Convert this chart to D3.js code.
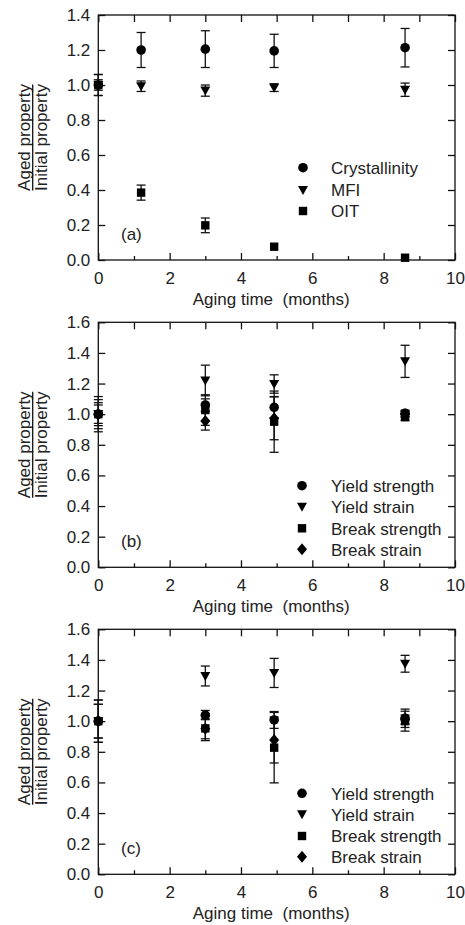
<!DOCTYPE html>
<html>
<head>
<meta charset="utf-8">
<script src="https://cdn.jsdelivr.net/npm/d3@7"></script>
<style>
  html, body { margin: 0; padding: 0; background: #fff; }
  svg text { font-family: "Liberation Sans", Arial, sans-serif; fill: #222; white-space: pre; }
</style>
</head>
<body>
<svg id="chart" width="465" height="925"></svg>
<script>
// ---------- DATA ----------
const xTickLabels = [0, 2, 4, 6, 8, 10];
const xMinorTicks = [1, 3, 5, 7, 9];
const yTicksA = [0, 0.2, 0.4, 0.6, 0.8, 1.0, 1.2, 1.4];
const yTicksBC = [0, 0.2, 0.4, 0.6, 0.8, 1.0, 1.2, 1.4, 1.6];

// Panel (a)
const timeA = [0, 1.2, 3.0, 4.93, 8.6];
const crystallinity    = [1.0, 1.200, 1.205, 1.195, 1.213];
const crystallinityErr = [0.06, 0.10, 0.105, 0.095, 0.11];
const mfi    = [1.0, 0.993, 0.968, 0.985, 0.973];
const mfiErr = [0.03, 0.03, 0.032, 0.022, 0.038];
const oit    = [1.0, 0.385, 0.198, 0.076, 0.013];
const oitErr = [0.06, 0.043, 0.042, 0, 0];

// Panels (b) and (c)
const timeBC = [0, 3.0, 4.93, 8.6];
const yieldStrengthB    = [1.0, 1.06, 1.045, 1.006];
const yieldStrengthBErr = [0.075, 0.04, 0.07, 0.02];
const yieldStrainB      = [1.0, 1.22, 1.197, 1.345];
const yieldStrainBErr   = [0.115, 0.10, 0.06, 0.105];
const breakStrengthB    = [1.0, 1.027, 0.951, 0.98];
const breakStrengthBErr = [0.095, 0.10, 0.20, 0.02];
const breakStrainB      = [1.0, 0.956, 0.973, 1.0];
const breakStrainBErr   = [0.06, 0.06, 0.14, 0.02];

const yieldStrengthC    = [1.0, 1.04, 1.008, 1.019];
const yieldStrengthCErr = [0.11, 0.03, 0.055, 0.06];
const yieldStrainC      = [1.0, 1.295, 1.315, 1.375];
const yieldStrainCErr   = [0.138, 0.065, 0.095, 0.055];
const breakStrengthC    = [1.0, 0.953, 0.827, 1.0];
const breakStrengthCErr = [0.11, 0.08, 0.23, 0.065];
const breakStrainC      = [1.0, 0.95, 0.877, 1.01];
const breakStrainCErr   = [0.138, 0.065, 0.15, 0.03];

const legendA = ["Crystallinity", "MFI", "OIT"];
const legendBC = ["Yield strength", "Yield strain", "Break strength", "Break strain"];

// ---------- DRAWING ----------
const svg = d3.select("#chart");
const FONT = 17;

const markerPaths = {
  circle: d3.symbol().type(d3.symbolCircle).size(Math.PI * 4.8 * 4.8)(),
  triangle: "M-5,-4L5,-4L0,5Z",
  square: "M-4.2,-4.2L4.2,-4.2L4.2,4.2L-4.2,4.2Z",
  diamond: "M0,-6L5,0L0,6L-5,0Z"
};

function drawPanel(cfg) {
  const left = 98.3, right = 455, top = cfg.top, bottom = cfg.top + 245;
  const x = d3.scaleLinear().domain([0, 10]).range([left, right]);
  const y = d3.scaleLinear().domain([0, cfg.yMax]).range([bottom, top]);
  const g = svg.append("g");

  g.append("rect").attr("x", left).attr("y", top)
    .attr("width", right - left).attr("height", bottom - top)
    .attr("fill", "none").attr("stroke", "#111").attr("stroke-width", 1.3);

  const bx = g.append("g").attr("transform", `translate(0,${bottom})`)
    .call(d3.axisBottom(x).tickValues(xTickLabels).tickSize(-7).tickPadding(12)
      .tickFormat(d3.format("d")));
  bx.select(".domain").remove();
  bx.selectAll(".tick line").attr("stroke", "#111").attr("stroke-width", 1.3);
  bx.selectAll(".tick text").attr("font-size", FONT).attr("fill", "#222")
    .attr("font-family", '"Liberation Sans", Arial, sans-serif');
  const bxm = g.append("g").attr("transform", `translate(0,${bottom})`)
    .call(d3.axisBottom(x).tickValues(xMinorTicks).tickSize(-4).tickFormat(""));
  bxm.select(".domain").remove();
  bxm.selectAll(".tick line").attr("stroke", "#111").attr("stroke-width", 1.3);

  const tx = g.append("g").attr("transform", `translate(0,${top})`)
    .call(d3.axisTop(x).tickValues(d3.range(0, 11)).tickSize(-7).tickFormat(""));
  tx.select(".domain").remove();
  tx.selectAll(".tick line").attr("stroke", "#111").attr("stroke-width", 1.3);

  const ly = g.append("g").attr("transform", `translate(${left},0)`)
    .call(d3.axisLeft(y).tickValues(cfg.yTicks).tickSize(-7).tickPadding(8)
      .tickFormat(d3.format(".1f")));
  ly.select(".domain").remove();
  ly.selectAll(".tick line").attr("stroke", "#111").attr("stroke-width", 1.3);
  ly.selectAll(".tick text").attr("font-size", FONT).attr("fill", "#222")
    .attr("font-family", '"Liberation Sans", Arial, sans-serif');

  const ry = g.append("g").attr("transform", `translate(${right},0)`)
    .call(d3.axisRight(y).tickValues(cfg.yTicks).tickSize(-7).tickFormat(""));
  ry.select(".domain").remove();
  ry.selectAll(".tick line").attr("stroke", "#111").attr("stroke-width", 1.3);

  g.append("text").attr("x", (left + right) / 2 - 5.5).attr("y", bottom + 45)
    .attr("text-anchor", "middle").attr("font-size", FONT)
    .attr("xml:space", "preserve").text("Aging time  (months)");

  const cy = (top + bottom) / 2;
  const yl = g.append("g").attr("transform", `translate(0,${cy}) rotate(-90)`);
  yl.append("text").attr("x", 0).attr("y", 29.5).attr("text-anchor", "middle")
    .attr("font-size", FONT).text("Aged property");
  yl.append("line").attr("x1", -53).attr("x2", 53).attr("y1", 32.7).attr("y2", 32.7)
    .attr("stroke", "#111").attr("stroke-width", 1.3);
  yl.append("text").attr("x", 0).attr("y", 46.5).attr("text-anchor", "middle")
    .attr("font-size", FONT).text("Initial property");

  g.append("text").attr("x", 121).attr("y", bottom - 20.5)
    .attr("font-size", FONT).text(cfg.letter);

  cfg.series.forEach(s => {
    const eg = g.append("g");
    s.values.forEach((v, i) => {
      const e = s.errors[i];
      if (!e) return;
      const px = x(cfg.time[i]);
      const y1 = y(v - e), y2 = y(v + e);
      eg.append("line").attr("x1", px).attr("x2", px).attr("y1", y1).attr("y2", y2)
        .attr("stroke", "#111").attr("stroke-width", 1.3);
      [y1, y2].forEach(yy => eg.append("line")
        .attr("x1", px - 4.5).attr("x2", px + 4.5).attr("y1", yy).attr("y2", yy)
        .attr("stroke", "#111").attr("stroke-width", 1.3));
    });
  });

  cfg.drawOrder.forEach(k => {
    const s = cfg.series[k];
    g.append("g").selectAll("path").data(s.values).join("path")
      .attr("d", markerPaths[s.marker])
      .attr("transform", (d, i) => `translate(${x(cfg.time[i])},${y(d)})`)
      .attr("fill", "#000");
  });

  cfg.series.forEach((s, k) => {
    const ry0 = top + cfg.legendRows[k];
    g.append("path").attr("d", markerPaths[s.marker])
      .attr("transform", `translate(${cfg.legendX},${ry0})`).attr("fill", "#000");
    g.append("text").attr("x", 331).attr("y", ry0 + 6.2)
      .attr("font-size", FONT).text(s.name);
  });
}

drawPanel({
  top: 15, yMax: 1.4, yTicks: yTicksA, letter: "(a)", time: timeA,
  legendX: 303, legendRows: [152.7, 175, 196],
  drawOrder: [0, 1, 2],
  series: [
    { name: legendA[0], marker: "circle", values: crystallinity, errors: crystallinityErr },
    { name: legendA[1], marker: "triangle", values: mfi, errors: mfiErr },
    { name: legendA[2], marker: "square", values: oit, errors: oitErr }
  ]
});

drawPanel({
  top: 322.3, yMax: 1.6, yTicks: yTicksBC, letter: "(b)", time: timeBC,
  legendX: 302, legendRows: [163.4, 184.4, 206, 227],
  drawOrder: [2, 3, 1, 0],
  series: [
    { name: legendBC[0], marker: "circle", values: yieldStrengthB, errors: yieldStrengthBErr },
    { name: legendBC[1], marker: "triangle", values: yieldStrainB, errors: yieldStrainBErr },
    { name: legendBC[2], marker: "square", values: breakStrengthB, errors: breakStrengthBErr },
    { name: legendBC[3], marker: "diamond", values: breakStrainB, errors: breakStrainBErr }
  ]
});

drawPanel({
  top: 629.3, yMax: 1.6, yTicks: yTicksBC, letter: "(c)", time: timeBC,
  legendX: 302, legendRows: [164, 185, 206.7, 227.4],
  drawOrder: [2, 3, 1, 0],
  series: [
    { name: legendBC[0], marker: "circle", values: yieldStrengthC, errors: yieldStrengthCErr },
    { name: legendBC[1], marker: "triangle", values: yieldStrainC, errors: yieldStrainCErr },
    { name: legendBC[2], marker: "square", values: breakStrengthC, errors: breakStrengthCErr },
    { name: legendBC[3], marker: "diamond", values: breakStrainC, errors: breakStrainCErr }
  ]
});
</script>
</body>
</html>
